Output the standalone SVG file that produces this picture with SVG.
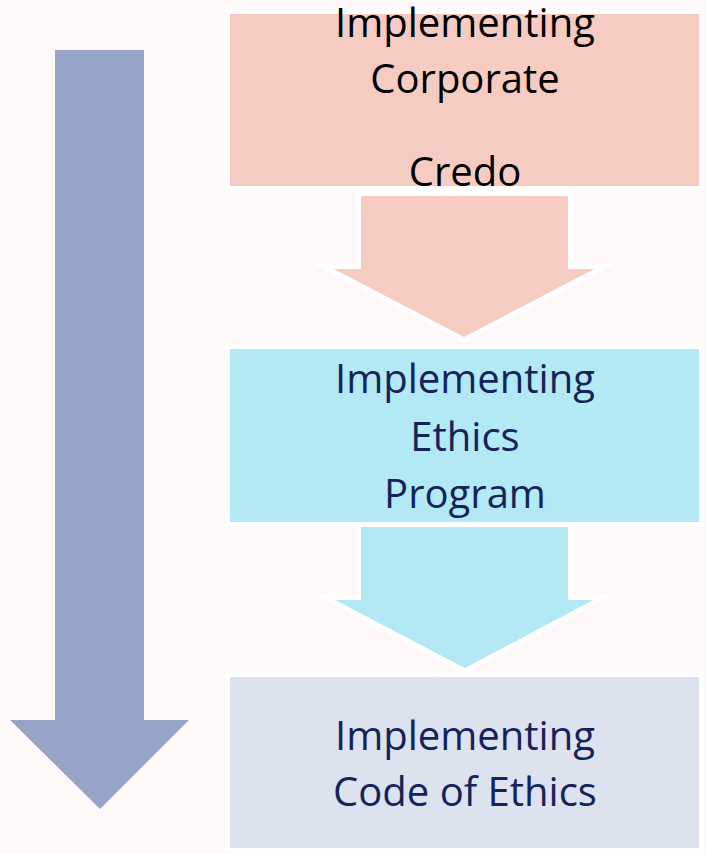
<svg xmlns="http://www.w3.org/2000/svg" width="707" height="854" viewBox="0 0 707 854">
  <style>
    .box { stroke: #ffffff; stroke-width: 10; paint-order: stroke; stroke-linejoin: miter; }
    .arr { stroke: #ffffff; stroke-width: 10; paint-order: stroke; stroke-linejoin: miter; stroke-miterlimit: 10; }
    .t { font-family: "Open Sans", "Liberation Sans", sans-serif; font-size: 40px; text-anchor: middle; }
    .dark { fill: #000000; }
    .navy { fill: #14245a; }
  </style>
  <rect x="0" y="0" width="707" height="854" fill="#fef8f9"/>
  <g id="timeline-arrow">
    <polygon points="55,50 144,50 144,720 189,720 100,809 10,720 55,720" fill="#96a5c7"/>
  </g>
  <g id="connectors">
    <polygon class="arr" points="361,196 568,196 568,269 594,269 464,337 334,269 361,269" fill="#f6cbc2"/>
    <polygon class="arr" points="361,527 568,527 568,600 593,600 465,668 335,600 361,600" fill="#b2e9f5"/>
  </g>
  <g id="node-credo">
    <rect class="box" x="230" y="14" width="469" height="172" fill="#f6cbc2"/>
    <text class="t dark" x="465" y="37">Implementing</text>
    <text class="t dark" x="465" y="93">Corporate</text>
    <text class="t dark" x="465" y="186">Credo</text>
  </g>
  <g id="node-program">
    <rect class="box" x="230" y="349" width="469" height="173" fill="#b2e9f5"/>
    <text class="t navy" x="465" y="393">Implementing</text>
    <text class="t navy" x="465" y="451">Ethics</text>
    <text class="t navy" x="465" y="508">Program</text>
  </g>
  <g id="node-code">
    <rect class="box" x="230" y="677" width="469" height="171" fill="#dde3ee"/>
    <text class="t navy" x="465" y="750">Implementing</text>
    <text class="t navy" x="465" y="806">Code of Ethics</text>
  </g>
</svg>
